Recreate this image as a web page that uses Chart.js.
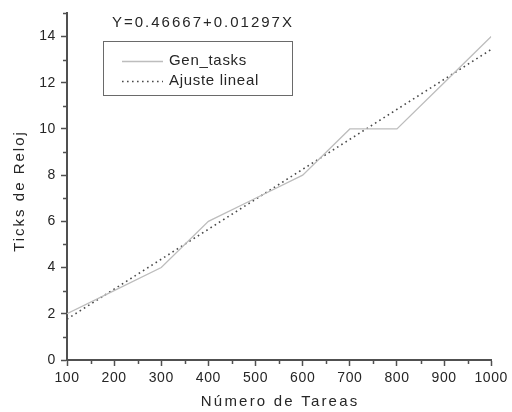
<!DOCTYPE html>
<html><head><meta charset="utf-8">
<script src="https://cdn.jsdelivr.net/npm/chart.js@4/dist/chart.umd.min.js"></script>
<style>html,body{margin:0;padding:0;background:#fff}#wrap{width:512px;height:412px}</style>
</head><body><div id="wrap"><canvas id="c" width="512" height="412"></canvas></div>
<script>
const tareas = [100,200,300,400,500,600,700,800,900,1000];
const genTasks = [2,3,4,6,7,8,10,10,12,14];
const fitX = [100,1000];
const fitY = [1.77,13.44];
const xTicks = [100,200,300,400,500,600,700,800,900,1000];
const xMinor = [150,250,350,450,550,650,750,850,950];
const yTicks = [0,2,4,6,8,10,12,14];
const yMinor = [1,3,5,7,9,11,13,15];
const equation = 'Y=0.46667+0.01297X';
const seriesNames = ['Gen_tasks','Ajuste lineal'];
const xTitle = 'Número de Tareas';
const yTitle = 'Ticks de Reloj';

const FONT = '"Liberation Sans", Arial, sans-serif';
const AX = '#505050';
const TXT = '#262626';

const spacing = {
  id:'spacing',
  beforeLayout(chart){ chart.ctx.letterSpacing='0.6px'; },
  beforeDraw(chart){ chart.ctx.letterSpacing='0.6px'; }
};

const extras = {
  id:'extras',
  afterDraw(chart){
    const ctx = chart.ctx, xs = chart.scales.x, ys = chart.scales.y;
    ctx.save();
    ctx.strokeStyle = AX; ctx.lineWidth = 1.5;
    ctx.beginPath();
    xMinor.forEach(v=>{const p=Math.round(xs.getPixelForValue(v))+0.5; ctx.moveTo(p,ys.bottom); ctx.lineTo(p,ys.bottom+4);});
    yMinor.forEach(v=>{const p=Math.round(ys.getPixelForValue(v))+0.5; ctx.moveTo(xs.left,p); ctx.lineTo(xs.left-4,p);});
    ctx.stroke();
    // axis titles
    ctx.fillStyle = TXT; ctx.textBaseline='middle'; ctx.textAlign='center';
    ctx.font = '15px '+FONT; ctx.letterSpacing='2.2px';
    ctx.fillText(xTitle, (xs.left+xs.right)/2+1, 402);
    ctx.save();
    ctx.translate(20, 191); ctx.rotate(-Math.PI/2);
    ctx.letterSpacing='2px';
    ctx.fillText(yTitle, 0, 0);
    ctx.restore();
    // equation
    ctx.textAlign='left'; ctx.letterSpacing='2px';
    ctx.fillText(equation, 112, 23);
    // legend box
    const bx=103, by=41, bw=189, bh=54;
    ctx.strokeStyle='#6a6a6a'; ctx.lineWidth=1;
    ctx.strokeRect(bx+0.5,by+0.5,bw,bh);
    const ds = chart.data.datasets;
    const rows=[61,81];
    ctx.letterSpacing='0.7px';
    rows.forEach((ry,i)=>{
      ctx.beginPath();
      ctx.strokeStyle = ds[i].borderColor; ctx.lineWidth = ds[i].borderWidth;
      ctx.setLineDash(ds[i].borderDash||[]);
      ctx.moveTo(122,ry+0.5); ctx.lineTo(163,ry+0.5); ctx.stroke();
      ctx.setLineDash([]);
      ctx.fillStyle=TXT; ctx.font='15px '+FONT;
      ctx.fillText(seriesNames[i], 169, ry);
    });
    ctx.restore();
  }
};

new Chart(document.getElementById('c'), {
  type:'line',
  data:{datasets:[
    {label:seriesNames[0], data:tareas.map((x,i)=>({x, y:genTasks[i]})), borderColor:'#bdbdbd', borderWidth:1.3, pointRadius:0, tension:0, fill:false},
    {label:seriesNames[1], data:fitX.map((x,i)=>({x, y:fitY[i]})), borderColor:'#4a4a4a', borderWidth:1.6, borderDash:[1.6,3.4], pointRadius:0, tension:0, fill:false}
  ]},
  options:{
    responsive:false, animation:false, devicePixelRatio:1,
    layout:{padding:{top:11,right:17,left:0,bottom:0}},
    plugins:{legend:{display:false}, tooltip:{enabled:false}},
    scales:{
      x:{type:'linear', min:100, max:1000,
        afterBuildTicks:s=>{s.ticks = xTicks.map(v=>({value:v}));},
        afterFit:s=>{s.height=52;},
        border:{display:true,color:AX,width:2},
        grid:{display:true,drawOnChartArea:false,drawTicks:true,tickLength:6,tickColor:AX,tickWidth:1.5},
        ticks:{color:TXT,font:{family:FONT,size:14},padding:4,maxRotation:0,autoSkip:false,callback:v=>String(v)},
        title:{display:false}
      },
      y:{type:'linear', min:0, max:15,
        afterBuildTicks:s=>{s.ticks = yTicks.map(v=>({value:v}));},
        afterFit:s=>{s.width=67;},
        border:{display:true,color:AX,width:2},
        grid:{display:true,drawOnChartArea:false,drawTicks:true,tickLength:6,tickColor:AX,tickWidth:1.5},
        ticks:{color:TXT,font:{family:FONT,size:14},padding:5,autoSkip:false,callback:v=>String(v)},
        title:{display:false}
      }
    }
  },
  plugins:[spacing, extras]
});
</script></body></html>
